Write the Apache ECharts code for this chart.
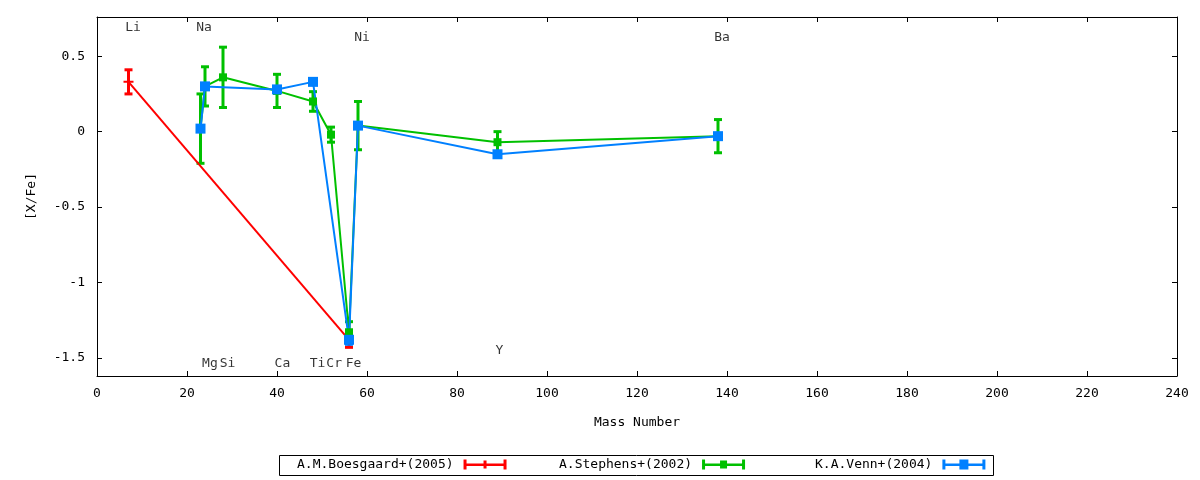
<!DOCTYPE html>
<html>
<head>
<meta charset="utf-8">
<script src="https://cdn.jsdelivr.net/npm/echarts@6/dist/echarts.min.js"></script>
<style>
  html, body { margin: 0; padding: 0; background: #fff; }
  #main { width: 1200px; height: 480px; }
</style>
</head>
<body>
<div id="main"></div>
<script>
// A.M.Boesgaard+(2005)
var boesMass = [7, 56];
var boesVal = [0.33, -1.38];
var boesErr = [0.08, 0.05];

// A.Stephens+(2002)
var stepMass = [23, 24, 28, 40, 48, 52, 56, 58, 89, 138];
var stepVal = [0.02, 0.30, 0.36, 0.27, 0.20, -0.02, -1.33, 0.04, -0.07, -0.03];
var stepErr = [0.23, 0.13, 0.20, 0.11, 0.065, 0.05, 0.07, 0.16, 0.07, 0.11];

// K.A.Venn+(2004)
var vennMass = [23, 24, 40, 48, 56, 58, 89, 138];
var vennVal = [0.02, 0.30, 0.28, 0.33, -1.38, 0.04, -0.15, -0.03];
var vennErr = [0, 0, 0, 0, 0.03, 0, 0, 0];

// element names written inside the frame
var elemNames = ['Li', 'Na', 'Ni', 'Ba', 'Mg', 'Si', 'Ca', 'Ti', 'Cr', 'Fe', 'Y'];
var elemX = [8, 23.8, 58.9, 138.9, 25.1, 29, 41.2, 49, 52.7, 57, 89.4];
var elemY = [0.69, 0.69, 0.625, 0.625, -1.54, -1.54, -1.54, -1.54, -1.54, -1.54, -1.45];

var yTicks = [-1.5, -1, -0.5, 0, 0.5];

var FONT = 'DejaVu Sans Mono';
var RED = '#ff0000', GREEN = '#00c000', BLUE = '#0080ff';

(function () {
    var myChart = echarts.init(document.getElementById('main'));

    function pts(xs, ys) {
        return xs.map(function (x, i) { return [x, ys[i]]; });
    }
    function bars(xs, ys, es) {
        return xs.map(function (x, i) { return [x, ys[i], es[i]]; });
    }
    // vertical error bar with caps
    function errRender(color) {
        return function (params, api) {
            var x = api.value(0), y = api.value(1), e = api.value(2);
            var top = api.coord([x, y + e]);
            var bot = api.coord([x, y - e]);
            var hw = 4;
            var st = { stroke: color, lineWidth: 3 };
            return {
                type: 'group',
                children: [
                    { type: 'line', shape: { x1: top[0], y1: top[1], x2: bot[0], y2: bot[1] }, style: st },
                    { type: 'line', shape: { x1: top[0] - hw, y1: top[1], x2: top[0] + hw, y2: top[1] }, style: st },
                    { type: 'line', shape: { x1: bot[0] - hw, y1: bot[1], x2: bot[0] + hw, y2: bot[1] }, style: st }
                ]
            };
        };
    }

    var plus = 'path://M0,4L10,4L10,6L0,6Z M4,0L6,0L6,10L4,10Z';
    var iconRed = 'path://M0,0H3V10H0Z M40,0H43V10H40Z M0,4H43V6.5H0Z M20,1H23V9H20Z';
    var iconGreen = 'path://M0,0H3V10H0Z M40,0H43V10H40Z M0,4H43V6.5H0Z M18,1H25V9H18Z';
    var iconBlue = 'path://M0,0H3V10H0Z M40,0H43V10H40Z M0,4H43V6.5H0Z M17,0H26V10H17Z';

    var txt = { fontFamily: FONT, fontSize: 13, color: '#000' };
    var axLine = { show: true, onZero: false, lineStyle: { color: '#000', width: 1 } };

    function legendAt(left, name, icon) {
        return {
            left: left, top: 458, padding: 0,
            align: 'right', itemWidth: 43, itemHeight: 10,
            textStyle: { fontFamily: FONT, fontSize: 13, color: '#000', padding: [0, 5, 0, 0] },
            data: [{ name: name, icon: icon }],
            selectedMode: false
        };
    }

    var option = {
        backgroundColor: '#fff',
        animation: false,
        textStyle: { fontFamily: FONT },
        grid: { left: 97, right: 23, top: 17, bottom: 104 },
        legend: [
            legendAt(297, 'A.M.Boesgaard+(2005)', iconRed),
            legendAt(559, 'A.Stephens+(2002)', iconGreen),
            legendAt(815, 'K.A.Venn+(2004)', iconBlue)
        ],
        graphic: [{
            type: 'rect',
            shape: { x: 279.5, y: 455.5, width: 714, height: 20 },
            style: { fill: null, stroke: '#000', lineWidth: 1 },
            silent: true
        }],
        xAxis: [{
            type: 'value', min: 0, max: 240, interval: 20,
            name: 'Mass Number', nameLocation: 'middle', nameGap: 40,
            nameTextStyle: txt,
            axisLine: axLine,
            axisTick: { inside: true, length: 5, lineStyle: { color: '#000' } },
            axisLabel: { margin: 11, fontFamily: FONT, fontSize: 13, color: '#000' },
            splitLine: { show: false }
        }, {
            type: 'value', min: 0, max: 240, interval: 20, position: 'top',
            axisLine: axLine,
            axisTick: { show: true, inside: true, length: 5, lineStyle: { color: '#000' } },
            axisLabel: { show: false },
            splitLine: { show: false }
        }],
        yAxis: [{
            type: 'value', min: -1.62, max: 0.76,
            name: '[X/Fe]', nameLocation: 'middle', nameGap: 59, nameRotate: 90,
            nameTextStyle: txt,
            axisLine: axLine,
            axisTick: { show: true, inside: true, length: 5, lineStyle: { color: '#000' }, customValues: yTicks },
            axisLabel: { margin: 12, fontFamily: FONT, fontSize: 13, color: '#000', customValues: yTicks },
            splitLine: { show: false }
        }, {
            type: 'value', min: -1.62, max: 0.76, position: 'right',
            axisLine: axLine,
            axisTick: { show: true, inside: true, length: 5, lineStyle: { color: '#000' }, customValues: yTicks },
            axisLabel: { show: false, customValues: yTicks },
            splitLine: { show: false }
        }],
        series: [
            {
                name: 'A.M.Boesgaard+(2005)', type: 'line',
                data: pts(boesMass, boesVal),
                lineStyle: { color: RED, width: 2 },
                itemStyle: { color: RED },
                symbol: plus, symbolSize: 10
            },
            {
                name: 'A.M.Boesgaard+(2005)', type: 'custom',
                data: bars(boesMass, boesVal, boesErr),
                encode: { x: 0, y: 1 },
                renderItem: errRender(RED),
                itemStyle: { color: RED }
            },
            {
                name: 'A.Stephens+(2002)', type: 'line',
                data: pts(stepMass, stepVal),
                lineStyle: { color: GREEN, width: 2 },
                itemStyle: { color: GREEN },
                symbol: 'rect', symbolSize: 8
            },
            {
                name: 'A.Stephens+(2002)', type: 'custom',
                data: bars(stepMass, stepVal, stepErr),
                encode: { x: 0, y: 1 },
                renderItem: errRender(GREEN),
                itemStyle: { color: GREEN }
            },
            {
                name: 'K.A.Venn+(2004)', type: 'line',
                data: pts(vennMass, vennVal),
                lineStyle: { color: BLUE, width: 2 },
                itemStyle: { color: BLUE },
                symbol: 'rect', symbolSize: 10
            },
            {
                name: 'K.A.Venn+(2004)', type: 'custom',
                data: bars(vennMass, vennVal, vennErr),
                encode: { x: 0, y: 1 },
                renderItem: errRender(BLUE),
                itemStyle: { color: BLUE }
            },
            {
                type: 'scatter', silent: true,
                data: pts(elemX, elemY),
                symbolSize: 0,
                label: {
                    show: true, position: 'inside',
                    fontFamily: FONT, fontSize: 13, color: '#000',
                    formatter: function (p) { return elemNames[p.dataIndex]; }
                }
            }
        ]
    };

    myChart.setOption(option);
    window.addEventListener('resize', function () {
        myChart.resize();
    });
})();
</script>
</body>
</html>
